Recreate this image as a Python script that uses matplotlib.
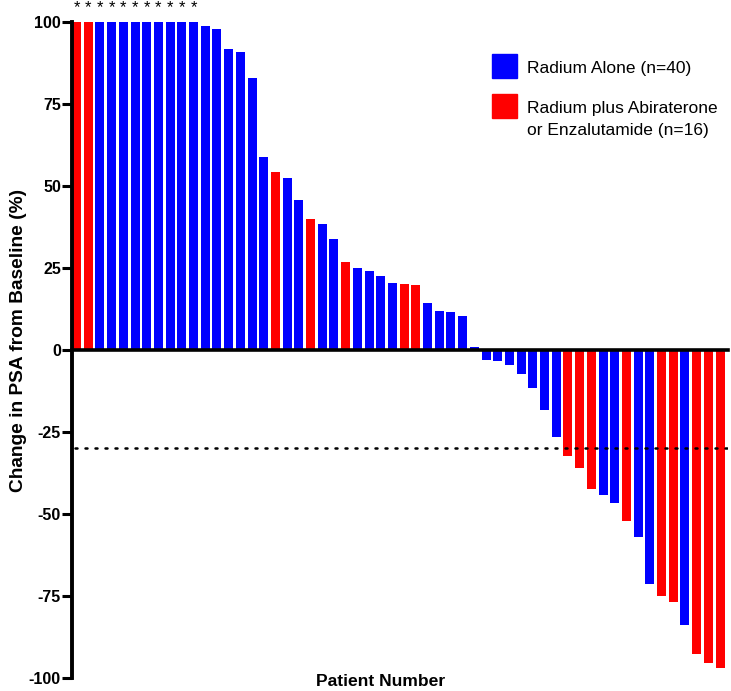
import matplotlib.pyplot as plt
from matplotlib.patches import Rectangle

# PSA change per patient, sorted (waterfall)
psaChange = [100, 100, 100, 100, 100, 100, 100, 100, 100, 100, 100,
             98.8, 97.9, 91.8, 90.9, 82.8, 58.7, 54.2, 52.3, 45.7,
             39.8, 38.4, 33.7, 26.8, 25.0, 24.0, 22.6, 20.4, 20.0, 19.8,
             14.2, 11.9, 11.5, 10.5, 1.0,
             -3.0, -3.5, -4.7, -7.4, -11.6, -18.3, -26.4,
             -32.4, -35.9, -42.5, -44.2, -46.5, -52.1, -56.9, -71.2,
             -75.0, -76.9, -83.9, -92.8, -95.3, -97.1]

# 'B' = radium alone, 'R' = radium plus abiraterone or enzalutamide
group = list('RRBBBBBBBBB' 'BBBBBBRBB'
             'RBBRBBBBRR' 'BBBBB'
             'BBBBBBB'
             'RRRBBRBB'
             'RRBRRR')

# patients flagged with an asterisk (first 11)
starred = list(range(1, 12))

yTicks = [-100, -75, -50, -25, 0, 25, 50, 75, 100]
threshold = -30

blue = '#0000FF'
red = '#FF0000'

plt.rcParams['font.family'] = ['Liberation Sans', 'DejaVu Sans']
plt.rcParams['axes.unicode_minus'] = False

fig = plt.figure(figsize=(7.31, 6.91), dpi=100)
ax = fig.add_axes([72 / 731, 13 / 691, (728 - 72) / 731, 656 / 691])

xs = list(range(1, len(psaChange) + 1))
colors = [blue if g == 'B' else red for g in group]
ax.bar(xs, psaChange, width=0.77, color=colors, edgecolor='none', zorder=2)

ax.set_xlim(0.615, 56.68)
ax.set_ylim(-100, 100)

# dotted -30% threshold line
ax.plot([0.9, 56.68], [threshold, threshold], color='black', lw=1.8,
        linestyle=(0, (0.8, 3.2)), dash_capstyle='round', zorder=3)

for s in starred:
    ax.text(s, 104.5, '*', ha='center', va='center', fontsize=12, clip_on=False)

ax.spines['top'].set_visible(False)
ax.spines['right'].set_visible(False)
ax.spines['bottom'].set_position(('data', 0))
ax.spines['bottom'].set_linewidth(2.6)
ax.spines['left'].set_linewidth(2.8)
ax.spines['bottom'].set_zorder(4)
ax.set_xticks([])
ax.set_yticks(yTicks)
ax.tick_params(axis='y', length=7, width=2.2, labelsize=11.5, pad=1)
for lab in ax.get_yticklabels():
    lab.set_fontweight('bold')

fig.text(19 / 731, 1 - 340 / 691, 'Change in PSA from Baseline (%)', rotation=90,
         ha='center', va='center', fontsize=13.8, fontweight='bold')
fig.text(381 / 731, 1 - 682 / 691, 'Patient Number', ha='center', va='center',
         fontsize=12.6, fontweight='bold')

# legend
fig.patches.append(Rectangle((492 / 731, 1 - 78 / 691), 25 / 731, 24 / 691,
                             transform=fig.transFigure, color=blue))
fig.patches.append(Rectangle((492 / 731, 1 - 118 / 691), 25 / 731, 24 / 691,
                             transform=fig.transFigure, color=red))
fig.text(527 / 731, 1 - 68 / 691, 'Radium Alone (n=40)', va='center', fontsize=12.5)
fig.text(527 / 731, 1 - 108 / 691, 'Radium plus Abiraterone', va='center', fontsize=12.5)
fig.text(527 / 731, 1 - 131 / 691, 'or Enzalutamide (n=16)', va='center', fontsize=12.5)

fig.savefig('out.png', dpi=100)
